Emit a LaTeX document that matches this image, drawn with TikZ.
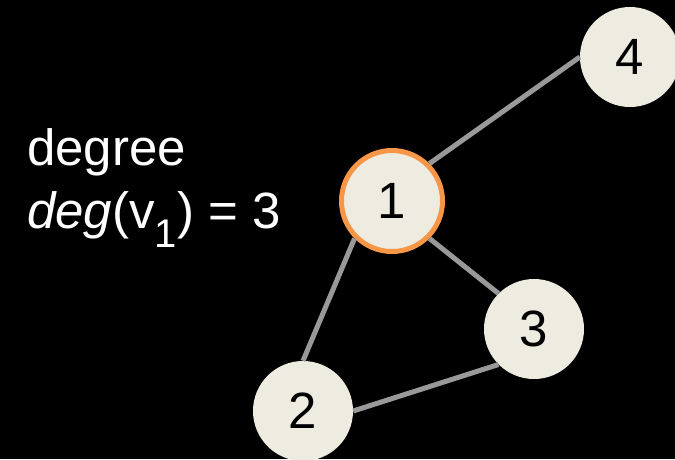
\documentclass[tikz,border=0pt]{standalone}
\usepackage{fontspec}
\setmainfont{Liberation Sans}
\usepackage{xcolor}
\usetikzlibrary{positioning, calc}
\definecolor{nodebeige}{RGB}{238,236,225}
\definecolor{huborange}{RGB}{247,150,70}
\definecolor{edgegray}{RGB}{153,153,153}

\begin{document}
\begin{tikzpicture}[
        x=1pt, y=-1pt,
        vertex/.style={circle, fill=nodebeige, inner sep=0pt, minimum size=100pt, font=\fontsize{51}{51}\selectfont},
        hub/.style={vertex, draw=huborange, line width=5pt, minimum size=101pt},
        edgeline/.style={draw=edgegray, line width=5pt},
        label/.style={text=white, inner sep=0pt, anchor=base west, font=\fontsize{51}{63}\selectfont}
    ]
        \clip (0,0) rectangle (675,459);
        \fill[black] (0,0) rectangle (675,459);
        % graph
        \node[hub] (v1) at (392,201) {1};
        \node[vertex] (v2) at (303,411) {2};
        \node[vertex] (v3) at (534,329) {3};
        \node[vertex] (v4) at (630,57) {4};
        \draw[edgeline] (v1.45) -- (v4.180);
        \draw[edgeline] (v1.-45) -- (v3.135);
        \draw[edgeline] (v1.-135) -- (v2.90);
        \draw[edgeline] (v2.0) -- (v3.-135);
        % text
        \node[label] (deglabel) at (27,165) {degree};
        \node[label] (degvalue) at ($(deglabel.base west)+(0,63)$) {\textit{deg}(v\raisebox{-19pt}{\fontsize{40}{40}\selectfont 1}) = 3};
    \end{tikzpicture}
\end{document}
